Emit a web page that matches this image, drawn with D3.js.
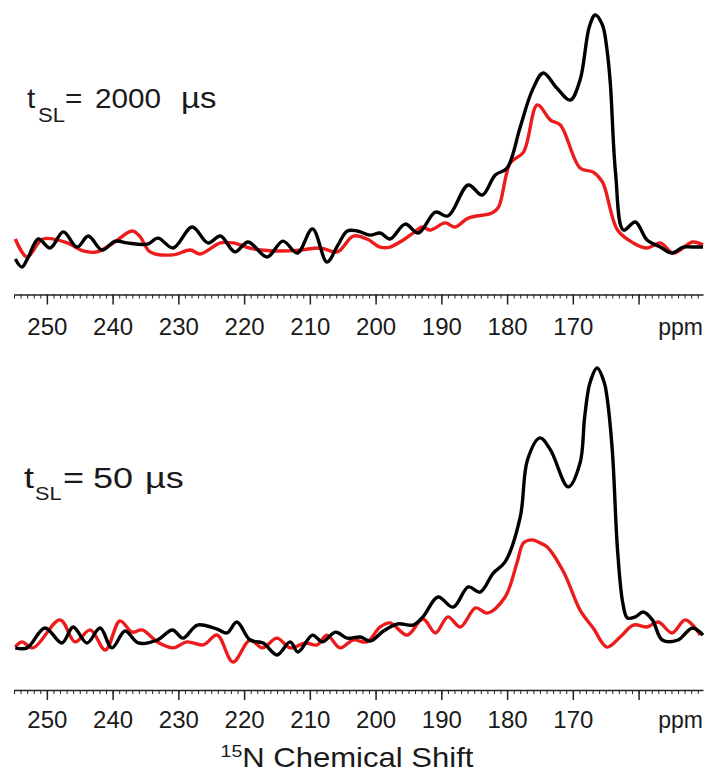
<!DOCTYPE html>
<html>
<head>
<meta charset="utf-8">
<script src="https://cdn.jsdelivr.net/npm/d3@7"></script>
<style>
  body { margin: 0; background: #fff; }
  text { font-family: "Liberation Sans", Arial, sans-serif; fill: #1a1a1a; }
</style>
</head>
<body>
<div id="chart"></div>
<script>
// chemical shift (ppm) and intensity, per trace
const topBlackPpm = [254.8, 253.8, 252.9, 251.3, 249.5, 247.5, 245.4, 243.7, 241.6, 239.6, 237.8, 234.7, 233.1, 230.8, 227.9, 225.5, 223.6, 221.4, 219.4, 216.5, 214.1, 211.9, 209.6, 207.4, 205.8, 204.3, 202.8, 200.8, 199.3, 197.8, 195.5, 193.5, 190.9, 189.0, 185.9, 183.8, 181.8, 180.0, 178.0, 176.2, 174.5, 172.5, 170.4, 168.9, 167.5, 166.6, 165.5, 164.8, 164.3, 163.5, 162.3, 160.5, 158.7, 156.7, 154.9, 153.2, 151.7, 150.2];
const topBlack = [-6.1, -9.6, -5.7, 2.6, -1.3, 5.7, -0.9, 3.9, -2.2, 1.7, 0.9, 0.4, 3.0, -1.3, 7.8, 0.9, 3.9, -3.0, 1.3, -5.2, 1.7, -3.5, 7.0, -7.4, -0.4, 6.1, 6.1, 4.3, 5.2, 2.6, 9.1, 5.2, 14.3, 12.6, 26.1, 21.7, 30.4, 33.5, 51.3, 67.0, 74.8, 68.5, 63.0, 71.7, 94.8, 100, 95.7, 84.8, 70.4, 31.3, 6.5, 10.0, 2.2, -0.9, -3.5, -0.9, -0.9, -0.9];

const topRedPpm = [254.8, 253.0, 250.6, 246.9, 244.5, 242.4, 239.9, 237.0, 235.8, 234.3, 230.8, 228.2, 226.7, 223.6, 221.7, 218.6, 215.0, 211.5, 208.4, 205.8, 203.4, 201.3, 199.3, 197.8, 195.8, 194.3, 192.9, 191.7, 189.4, 187.9, 185.9, 182.3, 181.3, 179.5, 177.5, 175.4, 173.4, 171.9, 168.9, 166.9, 165.5, 163.2, 160.8, 158.7, 156.7, 154.7, 151.8, 150.2];
const topRed = [2.6, -5.2, 2.6, 0.9, -2.6, -3.0, 0.9, 6.1, 3.5, -3.0, -4.3, -2.2, -3.9, 0.9, 0.9, -1.7, -2.6, -2.2, -1.3, -3.0, 3.9, 2.6, -0.9, -0.9, 2.2, 5.2, 7.8, 6.5, 9.6, 7.8, 11.7, 13.9, 16.5, 35.7, 40.4, 60.9, 54.3, 52.2, 33.5, 31.7, 27.4, 6.5, 0.9, -1.3, 0.9, -3.5, 1.3, 0];

const botBlackPpm = [254.8, 253.0, 250.3, 247.7, 246.0, 243.9, 241.9, 240.1, 238.1, 236.1, 233.2, 230.9, 229.3, 227.1, 224.1, 222.6, 221.1, 219.1, 217.1, 215.0, 213.0, 211.8, 209.6, 208.1, 206.1, 204.3, 202.3, 200.8, 198.8, 196.6, 194.3, 192.8, 190.5, 188.2, 185.9, 184.1, 182.1, 180.3, 178.0, 176.9, 175.0, 173.4, 170.7, 168.9, 168.2, 167.4, 166.3, 165.2, 164.8, 164.0, 163.2, 162.4, 161.7, 160.5, 159.3, 157.9, 156.4, 154.0, 151.8, 150.2];
const botBlack = [-2.9, -2.9, 4.4, -1.1, 4.8, -1.1, 4.4, -2.9, 3.3, -1.1, 0, 3.7, 0.7, 5.5, 4.0, 2.6, 6.6, 0, -1.1, -5.5, -0.7, -4.4, 1.8, -0.7, 2.9, 0.7, 1.1, -0.4, 3.3, 5.9, 5.5, 8.5, 15.8, 12.1, 19.5, 17.6, 24.6, 28.7, 45.2, 66.2, 74.3, 69.9, 56.3, 65.1, 82.0, 94.5, 100, 94.5, 89.3, 69.9, 33.1, 13.6, 8.1, 8.5, 10.3, 7.4, 0, 0, 4.4, 1.8];

const botRedPpm = [254.8, 253.8, 252.1, 248.0, 245.7, 243.4, 241.1, 238.9, 237.0, 235.5, 233.2, 230.8, 228.7, 226.2, 224.1, 221.7, 219.1, 217.2, 215.0, 213.0, 210.7, 208.9, 207.4, 205.4, 203.4, 201.3, 199.3, 197.8, 195.2, 192.8, 190.9, 189.0, 187.1, 184.8, 183.0, 180.3, 178.5, 177.5, 176.2, 175.0, 173.9, 171.4, 168.9, 166.9, 164.8, 162.8, 160.8, 158.7, 157.0, 154.9, 152.9, 150.6];
const botRed = [-2.6, -0.7, -2.9, 7.4, -0.7, 3.7, -3.7, 7.0, 2.9, 3.7, -0.7, -2.9, -0.7, -1.8, 1.8, -8.1, 0, -2.9, 0.7, -2.9, -1.1, -1.8, 1.8, -2.9, 0, -0.7, 4.8, 6.3, 1.8, 7.7, 2.6, 8.5, 4.8, 11.8, 9.9, 15.8, 28.3, 35.7, 36.8, 35.7, 34.2, 25.0, 11.0, 4.4, -2.6, 1.1, 5.5, 4.8, 6.6, 2.6, 7.4, 1.8];

const majorTicks = [250, 240, 230, 220, 210, 200, 190, 180, 170, 160];
const labelledTicks = [250, 240, 230, 220, 210, 200, 190, 180, 170];
const minorTicks = d3.range(151, 256);
const unitLabel = "ppm";
const panelTimes = ["2000", "50"];

const W = 710, H = 776;
const svg = d3.select("#chart").append("svg")
    .attr("width", W)
    .attr("height", H);

const x = d3.scaleLinear().domain([255, 150.2]).range([14, 703]);

function drawPanel(opts) {
    const y = d3.scaleLinear().domain([0, 100]).range([opts.base, opts.peak]);
    const g = svg.append("g");

    const line = (ppm, vals) => d3.line()
        .x(i => x(ppm[i]))
        .y(i => y(vals[i]))
        .curve(d3.curveCatmullRom.alpha(0.5))(d3.range(ppm.length));

    // red first, black on top
    g.append("path")
        .attr("d", line(opts.redPpm, opts.red))
        .attr("fill", "none")
        .attr("stroke", "#ec1c1c")
        .attr("stroke-width", 3.4)
        .attr("stroke-linejoin", "round");

    g.append("path")
        .attr("d", line(opts.blackPpm, opts.black))
        .attr("fill", "none")
        .attr("stroke", "#000")
        .attr("stroke-width", 3.4)
        .attr("stroke-linejoin", "round");

    // minor ticks every ppm
    g.append("g")
        .attr("transform", `translate(0,${opts.axisY})`)
        .call(d3.axisBottom(x).tickValues(minorTicks).tickSize(4).tickSizeOuter(0).tickFormat(""))
        .call(a => a.selectAll("line").attr("stroke", "#222").attr("stroke-width", 1))
        .call(a => a.select(".domain").attr("stroke", "#222").attr("stroke-width", 1.5));

    // major ticks every 10 ppm
    g.append("g")
        .attr("transform", `translate(0,${opts.axisY})`)
        .call(d3.axisBottom(x).tickValues(majorTicks).tickSize(10).tickSizeOuter(0)
            .tickFormat(d => labelledTicks.includes(d) ? d : ""))
        .call(a => a.select(".domain").remove())
        .call(a => a.selectAll("line").attr("stroke", "#222").attr("stroke-width", 1.5))
        .call(a => a.selectAll("text")
            .attr("font-size", 24)
            .attr("font-family", "Liberation Sans, Arial, sans-serif")
            .attr("fill", "#1a1a1a")
            .attr("y", 0)
            .attr("dy", opts.tickBase));

    g.append("text")
        .attr("x", 703)
        .attr("y", opts.axisY + opts.tickBase)
        .attr("text-anchor", "end")
        .attr("font-size", 23)
        .text(unitLabel);

    // panel label t_SL = ... µs, lettering a bit wider than the font, like the original
    const p = opts.label;
    const t = g.append("text")
        .attr("transform", `translate(0,${p.y}) scale(${p.sx},1)`)
        .attr("font-size", p.size);
    t.append("tspan").attr("x", p.xs[0] / p.sx).text("t");
    t.append("tspan").attr("x", p.xs[1] / p.sx).attr("font-size", p.subSize).attr("dy", p.subDy).text("SL");
    t.append("tspan").attr("x", p.xs[2] / p.sx).attr("dy", -p.subDy).text("=");
    t.append("tspan").attr("x", p.xs[3] / p.sx).text(opts.time);
    t.append("tspan").attr("x", p.xs[4] / p.sx).attr("font-size", 30).text("\u00b5s");
}

drawPanel({
    blackPpm: topBlackPpm, black: topBlack,
    redPpm: topRedPpm, red: topRed,
    base: 245, peak: 15, axisY: 294.5, tickBase: 40,
    time: panelTimes[0],
    label: { y: 108, size: 27, sx: 1.1, subSize: 20, subDy: 14, xs: [27, 38, 65, 95, 181] }
});

drawPanel({
    blackPpm: botBlackPpm, black: botBlack,
    redPpm: botRedPpm, red: botRed,
    base: 640, peak: 368, axisY: 690, tickBase: 38,
    time: panelTimes[1],
    label: { y: 488, size: 30, sx: 1.2, subSize: 18, subDy: 12, xs: [24, 35, 63, 93, 145] }
});

// axis title, slightly widened like the original lettering
const title = svg.append("text")
    .attr("transform", "translate(347,767) scale(1.15,1)")
    .attr("text-anchor", "middle")
    .attr("font-size", 27);
title.append("tspan").attr("font-size", 17).attr("dy", -10).text("15");
title.append("tspan").attr("dy", 10).text("N Chemical Shift");
</script>
</body>
</html>
